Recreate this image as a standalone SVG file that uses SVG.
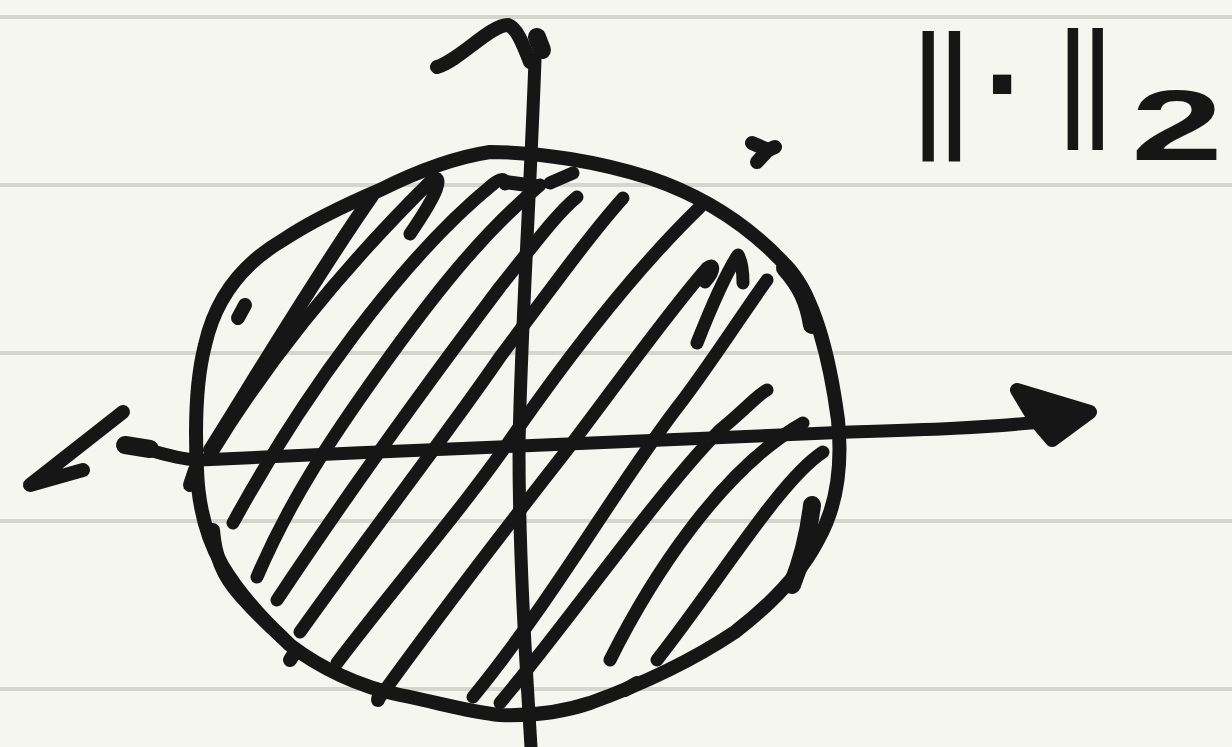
<svg xmlns="http://www.w3.org/2000/svg" width="1232" height="747" viewBox="0 0 1232 747">
<style>
.rule{stroke:#d6d6d0;stroke-width:4}
.ink{fill:none;stroke:#161616;stroke-linecap:round;stroke-linejoin:round}
.w14{stroke-width:14}
.w13{stroke-width:13}
.w12{stroke-width:12}
.w18{stroke-width:18}
.lbl{font-family:"Liberation Sans",Arial,sans-serif;fill:#161616}
</style>
<rect width="1232" height="747" fill="#f6f6f1"/>
<g id="paper">
<line class="rule" x1="0" y1="17" x2="1232" y2="17"/>
<line class="rule" x1="0" y1="185" x2="1232" y2="185"/>
<line class="rule" x1="0" y1="353" x2="1232" y2="353"/>
<line class="rule" x1="0" y1="521" x2="1232" y2="521"/>
<line class="rule" x1="0" y1="689" x2="1232" y2="689"/>
</g>
<g id="disk">
<path class="ink w14" d="M490,152 C540,152 600,162 650,178 C700,195 750,225 790,270 C815,300 830,360 838,420 C843,470 835,510 818,540 C800,575 770,605 735,632 C690,662 640,685 590,703 C560,713 530,716 500,715 C470,712 440,703 400,695 C360,687 320,668 290,645 C265,622 240,595 222,565 C205,535 198,500 197,470 C195,430 196,380 205,345 C215,300 240,265 283,240 C310,222 345,205 380,190 C410,175 450,158 490,152 Z"/>
<path class="ink w14" d="M213,530 C215,555 222,575 240,595 C255,612 268,625 282,637"/>
<path class="ink w18" d="M785,268 C800,285 808,300 812,325"/>
<path class="ink w18" d="M812,505 C808,540 800,565 792,585"/>
<path class="ink w14" d="M238,318 L245,305"/>
<path class="ink w14" d="M190,485 L195,470"/>
<path class="ink w14" d="M290,660 L295,652"/>
<path class="ink w14" d="M378,700 L380,690"/>
<path class="ink w14" d="M625,690 L637,683"/>
<path class="ink w14" d="M752,143 L768,150 L757,162"/>
<path class="ink w14" d="M768,150 L775,147"/>
</g>
<g id="hatching">
<path class="ink w14" d="M210,450 C260,370 320,270 372,196"/>
<path class="ink w13" d="M212,452 C250,390 320,290 434,178 C442,178 440,190 410,234"/>
<path class="ink w13" d="M233,523 C300,400 400,260 492,185 C500,178 505,178 505,184"/>
<path class="ink w13" d="M257,577 C290,500 330,440 380,370 C430,300 480,235 540,185"/>
<path class="ink w13" d="M277,600 C350,490 430,380 500,287 C530,250 555,215 577,197"/>
<path class="ink w13" d="M300,632 C380,520 450,430 500,357 C550,290 590,235 623,198"/>
<path class="ink w13" d="M337,663 C400,580 470,500 517,430 C580,340 640,265 700,207"/>
<path class="ink w13" d="M380,697 C450,600 520,510 567,450 C620,380 670,310 707,268 C714,262 716,270 705,282"/>
<path class="ink w13" d="M473,697 C560,590 620,480 683,400 C720,350 745,310 767,280"/>
<path class="ink w13" d="M500,703 C570,620 660,490 720,430 C745,410 757,395 767,390"/>
<path class="ink w13" d="M610,660 C650,580 720,470 803,423"/>
<path class="ink w13" d="M657,660 C720,580 780,480 823,452"/>
<path class="ink w13" d="M697,343 C710,310 725,275 738,255 C742,262 743,272 743,283"/>
<path class="ink w13" d="M550,183 L573,173"/>
<path class="ink w14" d="M505,182 L535,186"/>
</g>
<g id="connectors">
<path class="ink w13" d="M535,60 C530,200 520,350 519,450 C519,550 525,650 531,747"/>
<path class="ink w14" d="M437,67 C460,60 490,25 508,25 C518,28 525,50 530,62"/>
<path class="ink w18" d="M537,37 L542,50"/>
<path class="ink w13" d="M125,445 C150,448 175,460 200,460 C300,455 420,450 520,446 C650,441 760,436 850,432 C920,430 990,428 1060,420"/>
<path class="ink w18" d="M125,445 L150,449"/>
<path class="ink w14" d="M123,412 L30,485 L83,470"/>
<path d="M1017,390 L1090,412 L1052,440 L1035,420 Z" fill="#161616" stroke="#161616" stroke-width="14" stroke-linejoin="round"/>
</g>
<g id="label">
<text class="lbl" x="910" y="132" font-size="140" letter-spacing="-10">||</text>
<text class="lbl" x="984" y="128" font-size="130" font-weight="bold">·</text>
<text class="lbl" x="1056" y="122" font-size="130" letter-spacing="-9">||</text>
<text class="lbl" x="1131" y="160" font-size="100" font-weight="bold" textLength="92" lengthAdjust="spacingAndGlyphs">2</text>
</g>
</svg>
